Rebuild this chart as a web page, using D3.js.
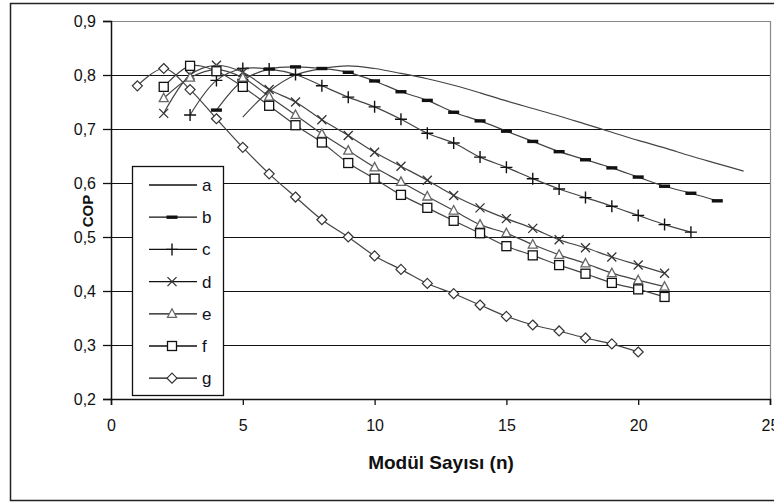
<!DOCTYPE html>
<html><head><meta charset="utf-8">
<script src="https://cdn.jsdelivr.net/npm/d3@7"></script>
<style>body{margin:0;background:#fff}svg{display:block}text{font-family:"Liberation Sans",Arial,sans-serif}</style>
</head><body>
<svg id="c" width="774" height="504"></svg>
<script>
const xTicks = [0,5,10,15,20,25];
const yTicks = [0.2,0.3,0.4,0.5,0.6,0.7,0.8,0.9];
const seriesNames = ["a","b","c","d","e","f","g"];
const nA = [5,6,7,8,9,10,11,12,13,14,15,16,17,18,19,20,21,22,23,24];
const valA = [0.722,0.770,0.800,0.812,0.817,0.812,0.803,0.793,0.781,0.767,0.752,0.738,0.724,0.709,0.694,0.679,0.665,0.650,0.636,0.622];
const nB = [4,5,6,7,8,9,10,11,12,13,14,15,16,17,18,19,20,21,22,23];
const valB = [0.735,0.790,0.811,0.815,0.812,0.805,0.789,0.769,0.753,0.731,0.715,0.696,0.677,0.658,0.643,0.628,0.611,0.594,0.581,0.567];
const nC = [3,4,5,6,7,8,9,10,11,12,13,14,15,16,17,18,19,20,21,22];
const valC = [0.726,0.790,0.812,0.811,0.801,0.780,0.759,0.741,0.718,0.692,0.674,0.648,0.629,0.608,0.589,0.573,0.557,0.540,0.523,0.509];
const nD = [2,3,4,5,6,7,8,9,10,11,12,13,14,15,16,17,18,19,20,21];
const valD = [0.729,0.800,0.818,0.805,0.773,0.750,0.717,0.688,0.657,0.631,0.605,0.577,0.554,0.534,0.516,0.495,0.480,0.463,0.448,0.433];
const nE = [2,3,4,5,6,7,8,9,10,11,12,13,14,15,16,17,18,19,20,21];
const valE = [0.757,0.795,0.810,0.795,0.760,0.726,0.691,0.660,0.629,0.602,0.575,0.549,0.523,0.507,0.486,0.467,0.451,0.433,0.420,0.408];
const nF = [2,3,4,5,6,7,8,9,10,11,12,13,14,15,16,17,18,19,20,21];
const valF = [0.778,0.817,0.807,0.778,0.743,0.707,0.675,0.637,0.608,0.578,0.554,0.530,0.507,0.483,0.466,0.448,0.432,0.415,0.403,0.389];
const nG = [1,2,3,4,5,6,7,8,9,10,11,12,13,14,15,16,17,18,19,20];
const valG = [0.780,0.812,0.773,0.719,0.666,0.617,0.574,0.532,0.500,0.465,0.440,0.414,0.395,0.374,0.353,0.337,0.326,0.313,0.302,0.287];

const seriesN = [nA,nB,nC,nD,nE,nF,nG];
const seriesV = [valA,valB,valC,valD,valE,valF,valG];
const markers = ["none","dash","plus","cross","triangle","square","diamond"];

const svg = d3.select("#c");
const L=111, R=770, T=21, B=399;
const x = d3.scaleLinear().domain([0,25]).range([L,R]);
const y = d3.scaleLinear().domain([0.2,0.9]).range([B,T]);

// outer frame
svg.append("rect").attr("x",10.5).attr("y",3.5).attr("width",800).attr("height",497)
  .attr("fill","none").attr("stroke","#222").attr("stroke-width",1.5);

// gridlines
svg.append("g").selectAll("line").data(yTicks.filter(v=>v>0.2 && v<0.9)).join("line")
  .attr("x1",L).attr("x2",R).attr("y1",d=>Math.round(y(d))+0.5).attr("y2",d=>Math.round(y(d))+0.5)
  .attr("stroke","#111").attr("stroke-width",1.2);
// plot border top/right grey
svg.append("line").attr("x1",L).attr("x2",R).attr("y1",Math.round(y(0.9))+0.5).attr("y2",Math.round(y(0.9))+0.5).attr("stroke","#888").attr("stroke-width",1.2);
svg.append("line").attr("x1",R+0.5).attr("x2",R+0.5).attr("y1",T).attr("y2",B).attr("stroke","#888").attr("stroke-width",1.2);

// axes
const yAxis = d3.axisLeft(y).tickValues(yTicks).tickSize(8).tickPadding(7)
  .tickFormat(d=>d3.format(".1f")(d).replace(".",","));
const gy = svg.append("g").attr("transform",`translate(${L},0)`).call(yAxis);
const xAxis = d3.axisBottom(x).tickValues(xTicks).tickSize(6).tickPadding(15);
const gx = svg.append("g").attr("transform",`translate(0,${B})`).call(xAxis);
[gy,gx].forEach(g=>{
  g.select(".domain").attr("stroke","#111").attr("stroke-width",1.5);
  g.selectAll(".tick line").attr("stroke","#111").attr("stroke-width",1.3);
  g.selectAll(".tick text").attr("font-size",16).attr("fill","#111").attr("font-family","'Liberation Sans',Arial,sans-serif");
});

// axis titles
svg.append("text").attr("x",441).attr("y",469).attr("text-anchor","middle")
  .attr("font-size",19).attr("font-weight","bold").attr("fill","#111").text("Modül Sayısı (n)");
svg.append("text").attr("transform","translate(93,211) rotate(-90)").attr("text-anchor","middle")
  .attr("font-size",15).attr("font-weight","bold").attr("fill","#111").text("COP");

function drawMarker(g, type){
  if(type==="dash"){ g.append("rect").attr("x",-5.5).attr("y",-1.7).attr("width",11).attr("height",3.4).attr("fill","#111"); }
  else if(type==="plus"){ g.append("path").attr("d","M-6,0H6M0,-6V6").attr("stroke","#111").attr("stroke-width",1.4).attr("fill","none"); }
  else if(type==="cross"){ g.append("path").attr("d","M-4.5,-4.5L4.5,4.5M-4.5,4.5L4.5,-4.5").attr("stroke","#333").attr("stroke-width",1.3).attr("fill","none"); }
  else if(type==="triangle"){ g.append("path").attr("d","M0,-5L4.5,3.5H-4.5Z").attr("stroke","#666").attr("stroke-width",1.3).attr("fill","#fff"); }
  else if(type==="square"){ g.append("rect").attr("x",-4.5).attr("y",-4.5).attr("width",9).attr("height",9).attr("stroke","#111").attr("stroke-width",1.3).attr("fill","#fff"); }
  else if(type==="diamond"){ g.append("path").attr("d","M0,-5L5,0L0,5L-5,0Z").attr("stroke","#333").attr("stroke-width",1.2).attr("fill","#fff"); }
}

const line = d3.line().x(d=>x(d[0])).y(d=>y(d[1])).curve(d3.curveCatmullRom.alpha(0.5));
const plot = svg.append("g");
seriesNames.forEach((s,i)=>{
  const pts = seriesN[i].map((n,j)=>[n,seriesV[i][j]]);
  plot.append("path").attr("d",line(pts)).attr("fill","none").attr("stroke","#444").attr("stroke-width",1.2);
});
seriesNames.forEach((s,i)=>{
  if(markers[i]==="none") return;
  seriesN[i].forEach((n,j)=>{
    const g = plot.append("g").attr("transform",`translate(${x(n)},${y(seriesV[i][j])})`);
    drawMarker(g, markers[i]);
  });
});

// legend
const lg = svg.append("g");
lg.append("rect").attr("x",132.5).attr("y",166.5).attr("width",91).attr("height",229)
  .attr("fill","#fff").attr("stroke","#111").attr("stroke-width",1.3);
seriesNames.forEach((s,i)=>{
  const yy = 185 + i*32.2;
  lg.append("line").attr("x1",149).attr("x2",197).attr("y1",yy).attr("y2",yy).attr("stroke","#111").attr("stroke-width",1.3);
  const g = lg.append("g").attr("transform",`translate(172,${yy})`);
  drawMarker(g, markers[i]);
  lg.append("text").attr("x",202).attr("y",yy+6).attr("font-size",17).attr("fill","#112").text(s);
});
</script>
</body></html>
